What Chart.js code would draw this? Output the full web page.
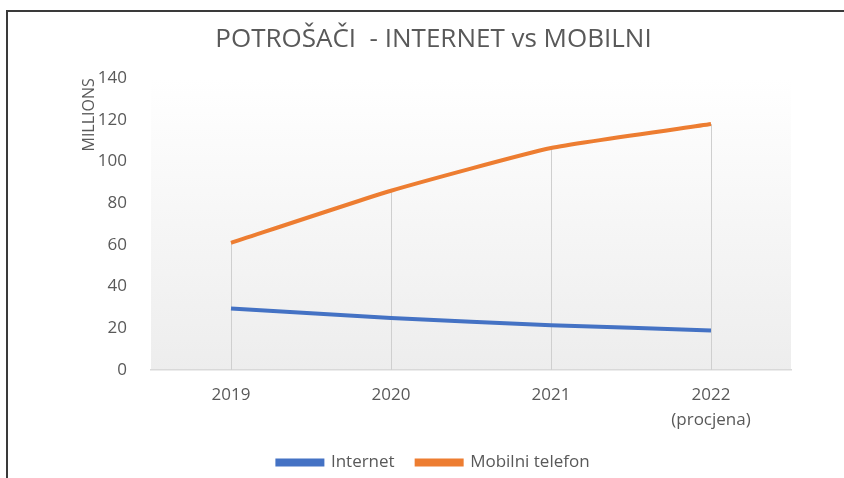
<!DOCTYPE html>
<html>
<head>
<meta charset="utf-8">
<script src="https://cdn.jsdelivr.net/npm/chart.js@4"></script>
<style>
  html, body { margin: 0; padding: 0; background: #fff; }
  #wrap { position: relative; width: 844px; height: 478px; }
  #frame {
    position: absolute; left: 6px; top: 10px; right: 0; bottom: 0;
    border-top: 2px solid #3a3a3a; border-left: 2px solid #3a3a3a;
    pointer-events: none;
  }
</style>
</head>
<body>
<div id="wrap">
  <canvas id="c" width="844" height="478"></canvas>
  <div id="frame"></div>
</div>
<script>
// podaci (procjena s grafa)
const godine = [['2019'], ['2020'], ['2021'], ['2022', '(procjena)']];
const internet = [29.5, 25, 21.5, 19];
const mobilni = [61, 86, 106.5, 118];
const yMin = 0, yMax = 140, yKorak = 20;

const SIVA = '#595959';
const FONT = "'Open Sans', 'DejaVu Sans', sans-serif";

// pozadina plot area - gradijent bijelo -> svijetlo sivo
const pozadina = {
    id: 'pozadina',
    beforeDraw(chart) {
        const { ctx, chartArea: a } = chart;
        const g = ctx.createLinearGradient(0, a.top, 0, a.bottom);
        g.addColorStop(0, 'rgba(255,255,255,1)');
        g.addColorStop(1, '#ededed');
        ctx.save();
        ctx.fillStyle = g;
        ctx.fillRect(a.left, a.top, a.right - a.left, a.bottom - a.top);
        ctx.restore();
    }
};

// okomite linije od najviše točke do osi (drop lines)
const dropLines = {
    id: 'dropLines',
    beforeDatasetsDraw(chart) {
        const { ctx, scales: { x, y } } = chart;
        ctx.save();
        ctx.strokeStyle = '#cfcfcf';
        ctx.lineWidth = 1;
        godine.forEach((_, i) => {
            const vrh = Math.max(...chart.data.datasets.map(d => d.data[i]));
            const px = Math.round(x.getPixelForValue(i)) + 0.5;
            ctx.beginPath();
            ctx.moveTo(px, y.getPixelForValue(vrh));
            ctx.lineTo(px, y.bottom);
            ctx.stroke();
        });
        ctx.restore();
    }
};

const chart = new Chart(document.getElementById('c'), {
    type: 'line',
    data: {
        labels: godine,
        datasets: [{
            label: 'Internet',
            data: internet,
            borderColor: '#4472C4',
            backgroundColor: '#4472C4',
            borderWidth: 4,
            pointRadius: 0,
            tension: 0.15
        }, {
            label: 'Mobilni telefon',
            data: mobilni,
            borderColor: '#ED7D31',
            backgroundColor: '#ED7D31',
            borderWidth: 4,
            pointRadius: 0,
            tension: 0.15
        }]
    },
    options: {
        responsive: false,
        animation: false,
        devicePixelRatio: 1,
        layout: { padding: { left: 76, right: 53, top: 0, bottom: -3 } },
        plugins: {
            title: {
                display: true,
                text: 'POTROŠAČI  - INTERNET vs MOBILNI',
                color: SIVA,
                font: { family: FONT, size: 26, weight: 'normal' },
                padding: { top: 24, bottom: 23 }
            },
            legend: {
                position: 'bottom',
                labels: {
                    boxWidth: 45,
                    boxHeight: 4,
                    color: SIVA,
                    font: { family: FONT, size: 17 },
                    padding: 22
                }
            },
            tooltip: { enabled: false }
        },
        scales: {
            x: {
                offset: true,
                grid: { display: false },
                border: { color: '#d9d9d9', width: 1.5 },
                ticks: { color: SIVA, font: { family: FONT, size: 17, lineHeight: 1.47 }, padding: 5, maxRotation: 0 },
                afterFit(s) { s.height = 62; }
            },
            y: {
                min: yMin,
                max: yMax,
                grid: { display: false },
                border: { display: false },
                ticks: { stepSize: yKorak, color: SIVA, font: { family: FONT, size: 17 }, padding: 16 },
                title: {
                    display: true,
                    text: 'MILLIONS',
                    align: 'end',
                    color: SIVA,
                    font: { family: FONT, size: 16 }
                },
                afterFit(s) { s.width = 75; }
            }
        }
    },
    plugins: [pozadina, dropLines]
});
</script>
</body>
</html>
